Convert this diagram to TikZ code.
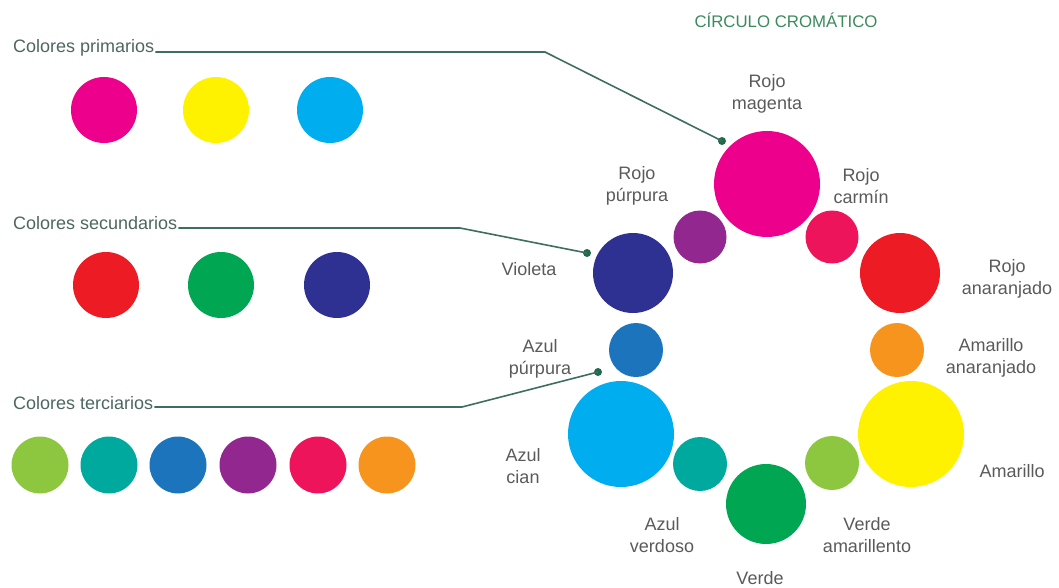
\documentclass[tikz,border=0pt]{standalone}
\usepackage{fontspec}
\setmainfont{Liberation Sans}
\definecolor{cMagenta}{HTML}{EC008C}
\definecolor{cYellow}{HTML}{FFF200}
\definecolor{cCyan}{HTML}{00AEEF}
\definecolor{cRed}{HTML}{ED1C24}
\definecolor{cGreen}{HTML}{00A651}
\definecolor{cViolet}{HTML}{2E3192}
\definecolor{cYGreen}{HTML}{8DC63F}
\definecolor{cTeal}{HTML}{00A99D}
\definecolor{cBluePurple}{HTML}{1C75BC}
\definecolor{cPurple}{HTML}{92278F}
\definecolor{cCarmine}{HTML}{ED145B}
\definecolor{cOrange}{HTML}{F7941D}
\definecolor{leadcol}{HTML}{3E6E62}
\definecolor{dotcol}{HTML}{1F6B4C}
\definecolor{labgray}{HTML}{5A5A5A}
\definecolor{grouplab}{HTML}{4E6661}
\definecolor{titlecol}{HTML}{3A8A5C}
\tikzset{
  disc/.style={circle, inner sep=0pt, minimum size=#1},
  wlabel/.style={text=labgray, align=center, font=\fontsize{18}{22.5}\selectfont},
  glabel/.style={text=grouplab, anchor=base west, inner sep=0pt, font=\fontsize{18}{20}\selectfont},
  leader/.style={draw=leadcol, line width=1.6pt},
  ldot/.style={circle, fill=dotcol, inner sep=0pt, minimum size=8pt}
}
\begin{document}
\begin{tikzpicture}[x=1pt, y=-1pt]
\useasboundingbox (0,0) rectangle (1059,588);
% title
\node[text=titlecol, font=\fontsize{16.8}{18}\selectfont] (title) at (786,20) {CÍRCULO CROMÁTICO};
% group labels
\node[glabel] (prim) at (13,53) {Colores primarios};
\node[glabel] (sec) at (13,229) {Colores secundarios};
\node[glabel] (ter) at (13,409) {Colores terciarios};
% primaries
\node[disc=66pt, fill=cMagenta] (p1) at (104,110) {};
\node[disc=66pt, fill=cYellow] (p2) at (216,110) {};
\node[disc=66pt, fill=cCyan] (p3) at (330,110) {};
% secondaries
\node[disc=66pt, fill=cRed] (s1) at (106,285) {};
\node[disc=66pt, fill=cGreen] (s2) at (221,285) {};
\node[disc=66pt, fill=cViolet] (s3) at (337,285) {};
% tertiaries
\node[disc=57pt, fill=cYGreen] (t1) at (40,465) {};
\node[disc=57pt, fill=cTeal] (t2) at (109,465) {};
\node[disc=57pt, fill=cBluePurple] (t3) at (178,465) {};
\node[disc=57pt, fill=cPurple] (t4) at (248,465) {};
\node[disc=57pt, fill=cCarmine] (t5) at (318,465) {};
\node[disc=57pt, fill=cOrange] (t6) at (387,465) {};
% colour wheel
\node[disc=106pt, fill=cMagenta] (wmag) at (767,184) {};
\node[disc=53pt, fill=cPurple] (wpur) at (700,237) {};
\node[disc=53pt, fill=cCarmine] (wcar) at (832,237) {};
\node[disc=80pt, fill=cViolet] (wvio) at (633,273) {};
\node[disc=80pt, fill=cRed] (wred) at (900,273) {};
\node[disc=54pt, fill=cBluePurple] (wbp) at (636,350) {};
\node[disc=54pt, fill=cOrange] (wora) at (897,350) {};
\node[disc=106pt, fill=cCyan] (wcya) at (621,434) {};
\node[disc=106pt, fill=cYellow] (wyel) at (911,434) {};
\node[disc=54pt, fill=cTeal] (wtea) at (700,464) {};
\node[disc=54pt, fill=cYGreen] (wyg) at (832,463) {};
\node[disc=80pt, fill=cGreen] (wgre) at (766,504) {};
% wheel labels
\node[wlabel] (lmag) at (767,94) {Rojo\\magenta};
\node[wlabel] (lpur) at (637,186) {Rojo\\púrpura};
\node[wlabel] (lcar) at (861,186) {Rojo\\carmín};
\node[wlabel] (lvio) at (529,269) {Violeta};
\node[wlabel] (lred) at (1007,279) {Rojo\\anaranjado};
\node[wlabel] (lbp) at (540,359) {Azul\\púrpura};
\node[wlabel] (lora) at (991,358) {Amarillo\\anaranjado};
\node[wlabel] (lcya) at (523,466) {Azul\\cian};
\node[wlabel] (lyel) at (1012,471) {Amarillo};
\node[wlabel] (ltea) at (662,535) {Azul\\verdoso};
\node[wlabel] (lyg) at (867,535) {Verde\\amarillento};
\node[wlabel] (lgre) at (760,578) {Verde};
% leader lines
\node[ldot] (d1) at (722,141) {};
\node[ldot] (d2) at (587,253) {};
\node[ldot] (d3) at (598,372) {};
\coordinate (c1) at (545,52);
\coordinate (c2) at (460,228);
\coordinate (c3) at (462,407);
\draw[leader] (prim.base east) ++(1,-1) -- (c1) -- (d1.center);
\draw[leader] (sec.base east) ++(1,-1) -- (c2) -- (d2.center);
\draw[leader] (ter.base east) ++(1,-2) -- (c3) -- (d3.center);
\end{tikzpicture}
\end{document}
